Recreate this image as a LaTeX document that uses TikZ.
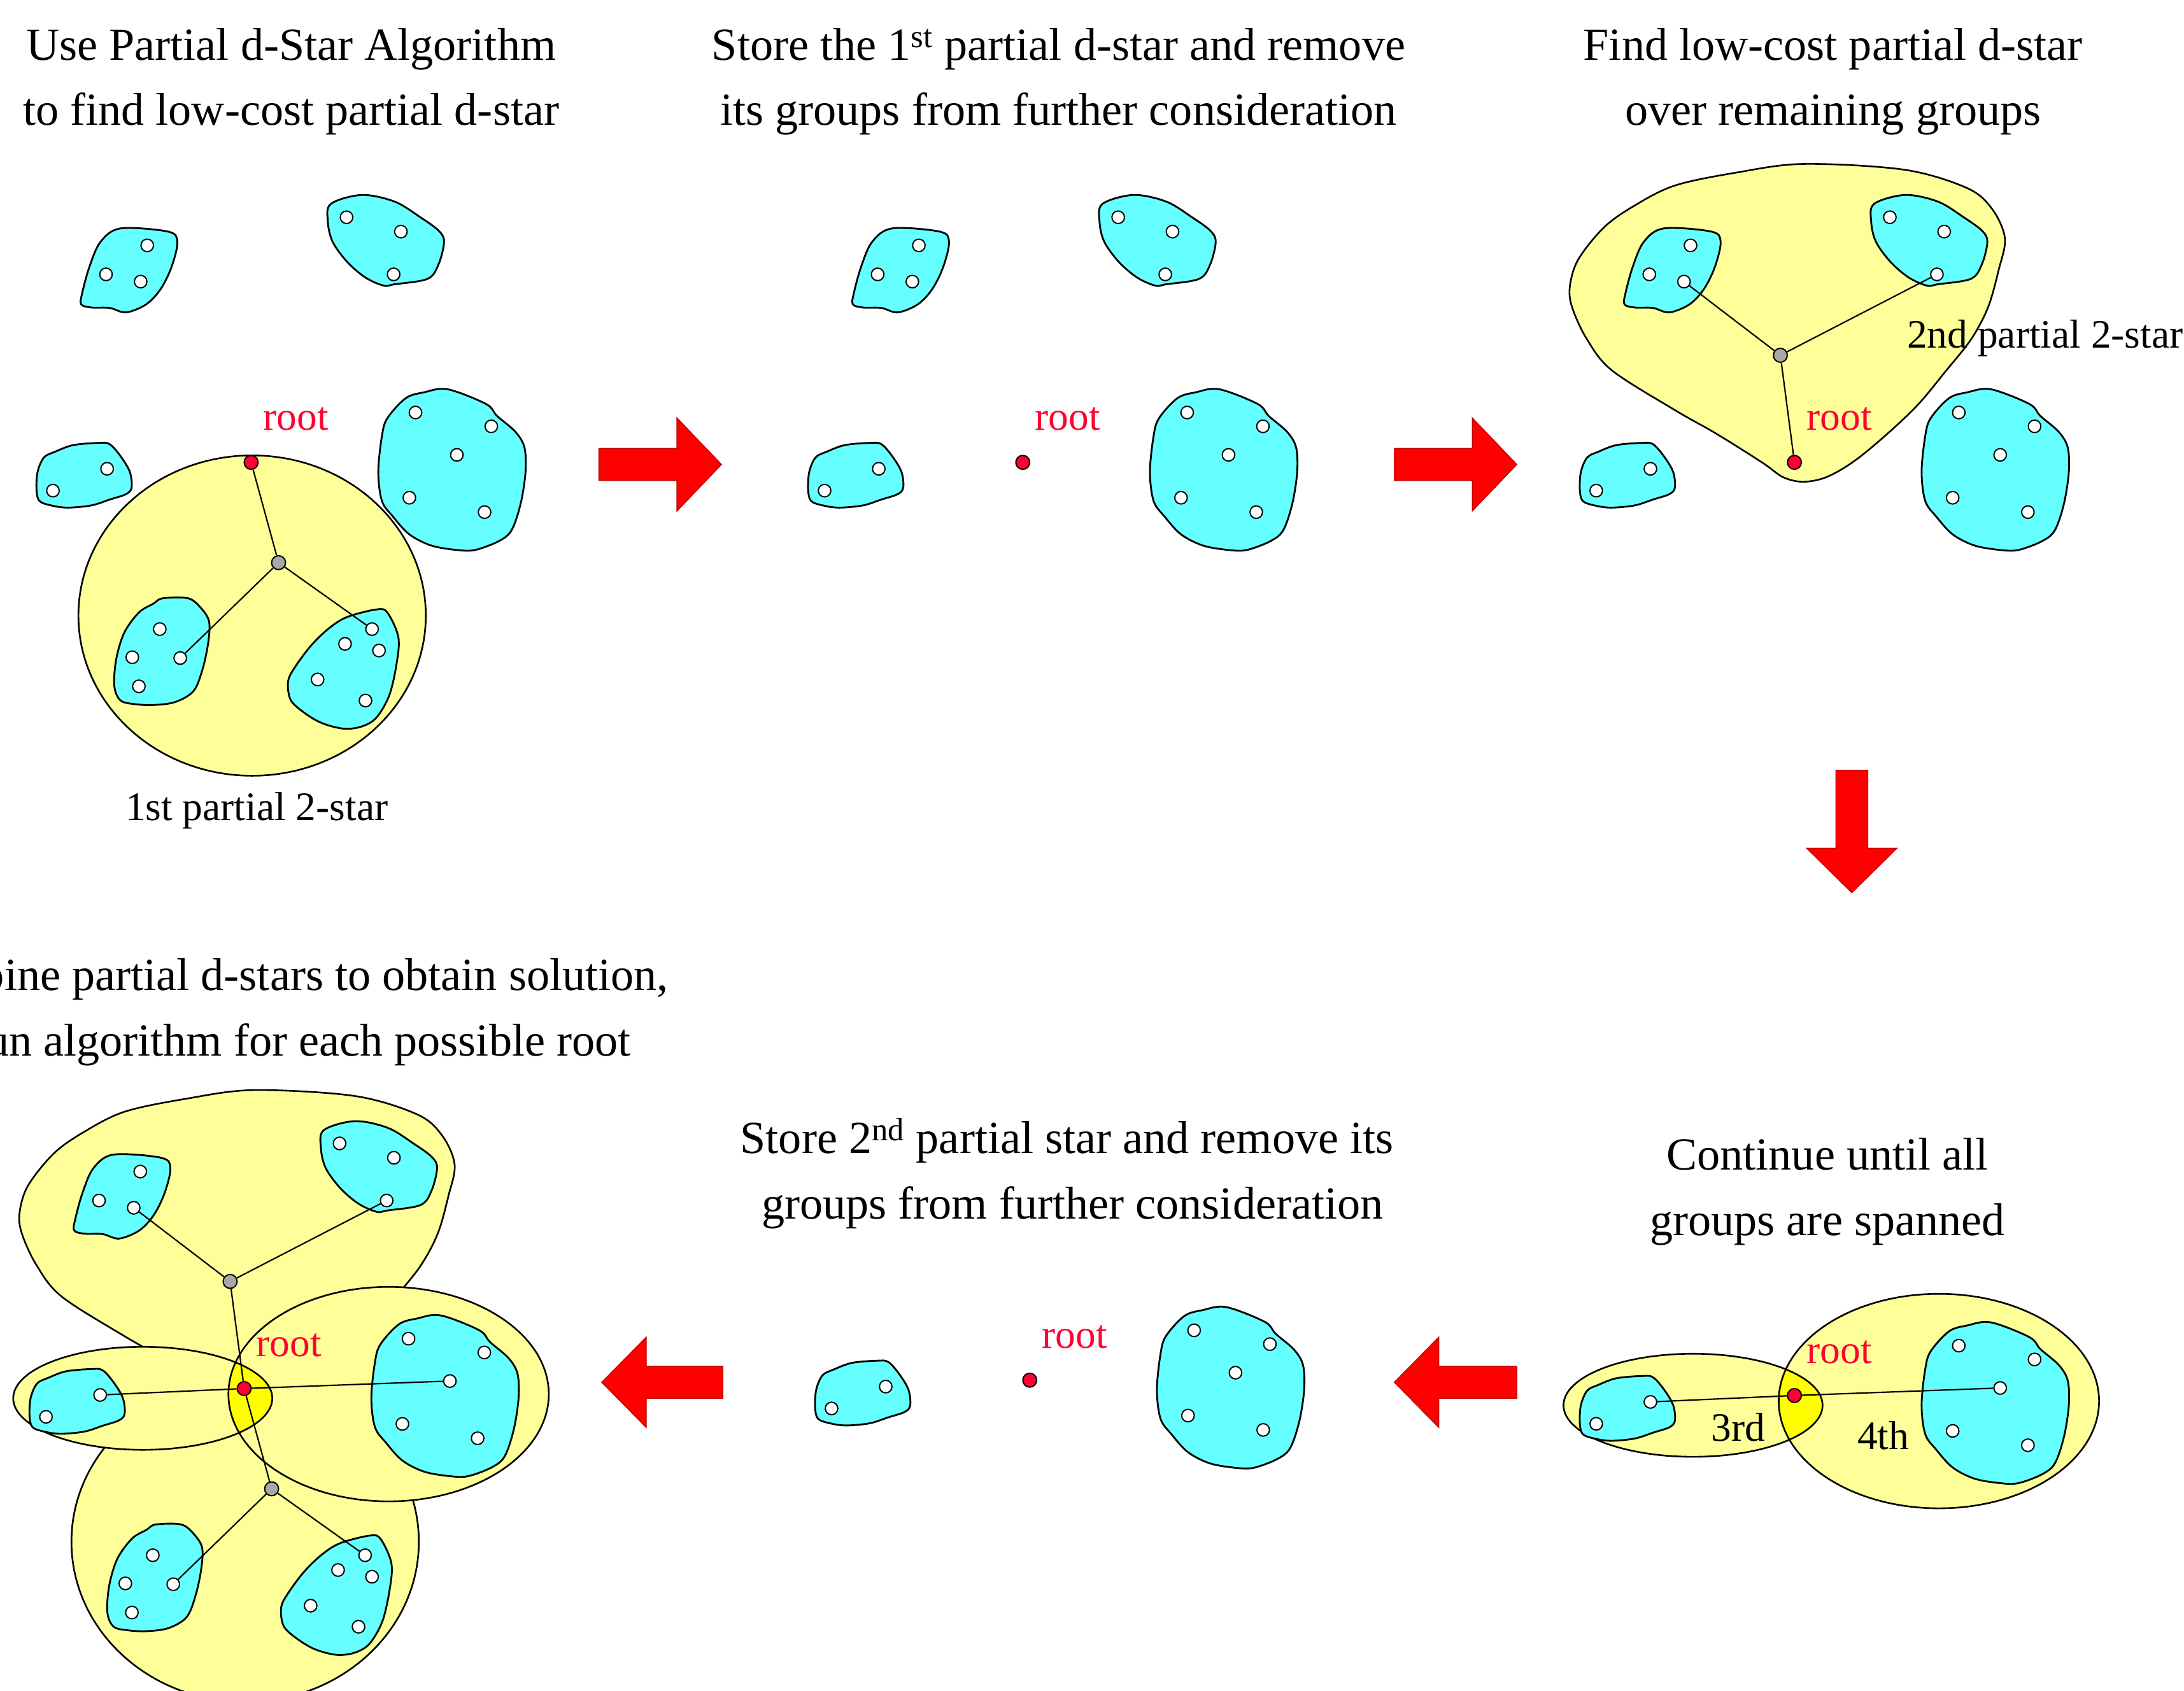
\documentclass[tikz,border=0pt]{standalone}
\usepackage{fontspec}
\setmainfont{Liberation Serif}
\definecolor{cyanc}{HTML}{66FFFF}
\definecolor{paley}{HTML}{FFFF99}
\definecolor{brighty}{HTML}{FFFF00}
\definecolor{rootred}{HTML}{FF0033}
\definecolor{arrowred}{HTML}{FF0000}
\definecolor{dotgray}{HTML}{A8A8A8}
\tikzset{
 blob/.style={fill=cyanc, draw=black, line width=1.3pt, line join=round},
 grp/.style={fill=paley, draw=black, line width=1.2pt},
 outl/.style={draw=black, line width=1.2pt},
 wdot/.style={circle, fill=white, draw=black, line width=0.9pt, inner sep=0pt, minimum size=9pt},
 rdot/.style={circle, fill=rootred, draw=black, line width=0.9pt, inner sep=0pt, minimum size=10pt},
 gdot/.style={circle, fill=dotgray, draw=black, line width=0.9pt, inner sep=0pt, minimum size=10pt},
 link/.style={draw=black, line width=1pt},
 bigarrow/.style={fill=arrowred, draw=arrowred!75!black, line width=0.6pt},
 title/.style={font=\fontsize{33}{40}\selectfont, anchor=base, inner sep=0pt},
 lab/.style={font=\fontsize{29}{35}\selectfont, anchor=base, inner sep=0pt},
 rootlab/.style={lab, text=rootred},
}
\newcommand\grpA[1]{%
 \draw[blob] plot[smooth cycle, tension=0.55] coordinates {(86.6,164.0) (120.7,166.3) (127.3,173.6) (123.3,191.3) (115.5,207.3) (105.0,218.5) (90.5,224.3) (78.7,221.1) (65.6,220.8) (58.3,218.5) (59.0,210.5) (64.3,191.3) (72.2,173.6)};
 \node[wdot] (#1a1) at (76.1,197.0) {};
 \node[wdot] (#1a2) at (105.7,176.2) {};
 \node[wdot] (#1a3) at (101.0,202.2) {};}
\newcommand\grpB[1]{%
 \draw[blob] plot[smooth cycle, tension=0.55] coordinates {(237.5,146.4) (259.8,140.0) (283.4,144.8) (301.8,156.0) (314.9,165.6) (318.8,173.6) (314.9,189.7) (307.0,200.2) (283.4,204.1) (275.5,205.1) (262.4,199.3) (249.3,188.1) (238.8,173.6) (235.4,159.2)};
 \node[wdot] (#1b1) at (248.8,156.0) {};
 \node[wdot] (#1b2) at (287.8,166.3) {};
 \node[wdot] (#1b3) at (282.6,197.0) {};}
\newcommand\grpC[1]{%
 \draw[blob] plot[smooth cycle, tension=0.55] coordinates {(39.4,324.4) (52.5,319.6) (70.8,318.0) (78.7,318.9) (86.6,327.6) (93.2,338.8) (94.5,350.0) (90.5,354.8) (78.7,358.7) (65.6,362.9) (48.5,364.5) (36.7,362.9) (28.3,359.7) (26.2,351.6) (27.0,338.8) (31.5,328.5)};
 \node[wdot] (#1c1) at (38.0,352.3) {};
 \node[wdot] (#1c2) at (76.9,336.6) {};}
\newcommand\grpD[1]{%
 \draw[blob] plot[smooth cycle, tension=0.55] coordinates {(278.1,300.3) (291.3,285.9) (304.4,281.7) (321.4,279.5) (349.0,290.1) (356.9,298.7) (370.0,310.0) (376.5,321.2) (377.3,338.8) (373.9,361.2) (367.4,380.5) (358.2,388.5) (341.1,394.9) (328.0,394.9) (309.6,391.7) (293.9,383.7) (282.1,370.9) (274.2,359.7) (271.6,338.8) (274.2,313.1)};
 \node[wdot] (#1d1) at (298.3,296.2) {};
 \node[wdot] (#1d2) at (352.7,306.1) {};
 \node[wdot] (#1d3) at (328.0,326.6) {};
 \node[wdot] (#1d4) at (293.9,357.4) {};
 \node[wdot] (#1d5) at (347.9,367.7) {};}
\newcommand\grpE[1]{%
 \draw[blob] plot[smooth cycle, tension=0.55] coordinates {(116.8,429.6) (135.1,429.6) (144.3,436.6) (150.1,446.2) (149.6,460.7) (145.6,479.9) (139.1,496.0) (126.0,504.0) (110.2,506.2) (97.1,505.6) (86.6,503.0) (82.1,492.8) (83.4,473.5) (89.2,454.3) (99.7,439.8) (110.2,433.4)};
 \node[wdot] (#1e1) at (114.7,451.7) {};
 \node[wdot] (#1e2) at (95.0,471.9) {};
 \node[wdot] (#1e3) at (129.4,472.5) {};
 \node[wdot] (#1e4) at (99.7,492.8) {};}
\newcommand\grpF[1]{%
 \draw[blob] plot[smooth cycle, tension=0.55] coordinates {(249.3,443.0) (270.3,437.6) (278.1,439.8) (286.0,457.5) (284.7,476.7) (279.5,499.2) (270.3,515.2) (259.8,521.6) (246.7,523.2) (230.9,519.1) (217.8,511.3) (208.6,502.4) (206.8,489.5) (211.2,479.9) (223.0,463.9) (236.2,451.1)};
 \node[wdot] (#1f1) at (267.1,451.7) {};
 \node[wdot] (#1f2) at (247.7,462.3) {};
 \node[wdot] (#1f3) at (272.1,467.1) {};
 \node[wdot] (#1f4) at (228.0,487.9) {};
 \node[wdot] (#1f5) at (262.4,503.0) {};}
\newcommand\rootdot[1]{%
 \node[rdot] (#1r) at (180.3,332) {};
 \node[rootlab] (#1rl) at (212.5,309) {root};}
\newcommand\starone{\draw[grp] (181,442) ellipse [x radius=124.7, y radius=115];}
\newcommand\startwo{\draw[grp] plot[smooth cycle, tension=0.55] coordinates {(187.3,117.7) (259.4,121.9) (304.4,135.1) (322.4,150.3) (331.4,171.2) (326.9,193.9) (319.4,220.4) (307.4,243.2) (289.4,265.9) (265.4,294.3) (229.3,326.5) (205.3,341.7) (187.3,345.9) (172.3,342.7) (157.3,332.2) (124.2,311.4) (94.2,294.3) (49.2,265.9) (31.1,243.2) (20.6,220.4) (19.1,205.3) (25.1,186.3) (43.2,163.6) (64.2,148.4) (94.2,133.3) (139.3,123.8)};}
\newcommand\thirdfourth{%
 \fill[paley] (107.5,339) ellipse [x radius=93, y radius=37];
 \fill[paley] (284,336) ellipse [x radius=115, y radius=77];
 \begin{scope}
  \clip (107.5,339) ellipse [x radius=93, y radius=37];
  \fill[brighty] (284,336) ellipse [x radius=115, y radius=77];
 \end{scope}
 \draw[outl] (107.5,339) ellipse [x radius=93, y radius=37];
 \draw[outl] (284,336) ellipse [x radius=115, y radius=77];}
\begin{document}
\begin{tikzpicture}[x=1pt,y=-1pt]
\useasboundingbox (0,0) rectangle (1568,1214);
\fill[white] (0,0) rectangle (1568,1214);
\clip (0,0) rectangle (1568,1214);

% ---------- titles ----------
\node[title] (t1a) at (209,43) {Use Partial d-Star Algorithm};
\node[title] (t1b) at (209,90) {to find low-cost partial d-star};
\node[title] (t2a) at (760,43) {Store the 1\textsuperscript{st} partial d-star and remove};
\node[title] (t2b) at (760,90) {its groups from further consideration};
\node[title] (t3a) at (1316,43) {Find low-cost partial d-star};
\node[title] (t3b) at (1316,90) {over remaining groups};
\node[title] (t4a) at (766,828) {Store 2\textsuperscript{nd} partial star and remove its};
\node[title] (t4b) at (770,875) {groups from further consideration};
\node[title, anchor=base east] (t5a) at (480,711) {bine partial d-stars to obtain solution,};
\node[title, anchor=base east] (t5b) at (453,758) {un algorithm for each possible root};
\node[title] (t6a) at (1312,840) {Continue until all};
\node[title] (t6b) at (1312,887) {groups are spanned};

% ---------- arrows ----------
\draw[bigarrow] (430,322) -- (486,322) -- (486,300) -- (518,333.5) -- (486,367) -- (486,345) -- (430,345) -- cycle;
\draw[bigarrow] (1001,322) -- (1057,322) -- (1057,300) -- (1089,333.5) -- (1057,367) -- (1057,345) -- (1001,345) -- cycle;
\draw[bigarrow] (1318,553) -- (1341,553) -- (1341,609) -- (1362,609) -- (1329.5,641) -- (1297,609) -- (1318,609) -- cycle;
\draw[bigarrow] (1089,981) -- (1033,981) -- (1033,960) -- (1001,992.5) -- (1033,1025) -- (1033,1004) -- (1089,1004) -- cycle;
\draw[bigarrow] (519,981) -- (464,981) -- (464,960) -- (432,992.5) -- (464,1025) -- (464,1004) -- (519,1004) -- cycle;

% ---------- panel 1 ----------
\begin{scope}
 \starone
 \grpA{one}\grpB{one}\grpC{one}\grpD{one}\grpE{one}\grpF{one}
 \rootdot{one}
 \node[gdot] (oneg) at (200,404) {};
 \draw[link] (oner) -- (oneg);
 \draw[link] (oneg) -- (onee3);
 \draw[link] (oneg) -- (onef1);
 \node[lab] (onelab) at (184.3,589) {1st partial 2-star};
\end{scope}

% ---------- panel 2 ----------
\begin{scope}[shift={(554,0)}]
 \grpA{two}\grpB{two}\grpC{two}\grpD{two}
 \rootdot{two}
\end{scope}

% ---------- panel 3 ----------
\begin{scope}[shift={(1108,0)}]
 \startwo
 \grpA{three}\grpB{three}\grpC{three}\grpD{three}
 \rootdot{three}
 \node[gdot] (threeg) at (170.2,255.1) {};
 \draw[link] (threer) -- (threeg);
 \draw[link] (threeg) -- (threea3);
 \draw[link] (threeg) -- (threeb3);
 \node[lab, anchor=base west] (threelab) at (261,250) {2nd partial 2-star};
\end{scope}

% ---------- panel 6 ----------
\begin{scope}[shift={(1108,670)}]
 \thirdfourth
 \grpC{six}\grpD{six}
 \rootdot{six}
 \draw[link] (sixc2) -- (sixr);
 \draw[link] (sixr) -- (sixd3);
 \node[lab] (sixl3) at (140,364.7) {3rd};
 \node[lab] (sixl4) at (244,370.8) {4th};
\end{scope}

% ---------- panel 4 ----------
\begin{scope}[shift={(559,659)}]
 \grpC{four}\grpD{four}
 \rootdot{four}
\end{scope}

% ---------- panel 5 ----------
\begin{scope}[shift={(-5,665)}]
 \startwo
 \starone
 \thirdfourth
 \grpA{five}\grpB{five}\grpC{five}\grpD{five}\grpE{five}\grpF{five}
 \rootdot{five}
 \node[gdot] (fiveg) at (200,404) {};
 \node[gdot] (fiveh) at (170.2,255.1) {};
 \draw[link] (fiver) -- (fiveg);
 \draw[link] (fiveg) -- (fivee3);
 \draw[link] (fiveg) -- (fivef1);
 \draw[link] (fiver) -- (fiveh);
 \draw[link] (fiveh) -- (fivea3);
 \draw[link] (fiveh) -- (fiveb3);
 \draw[link] (fiver) -- (fivec2);
 \draw[link] (fiver) -- (fived3);
\end{scope}
\end{tikzpicture}
\end{document}
